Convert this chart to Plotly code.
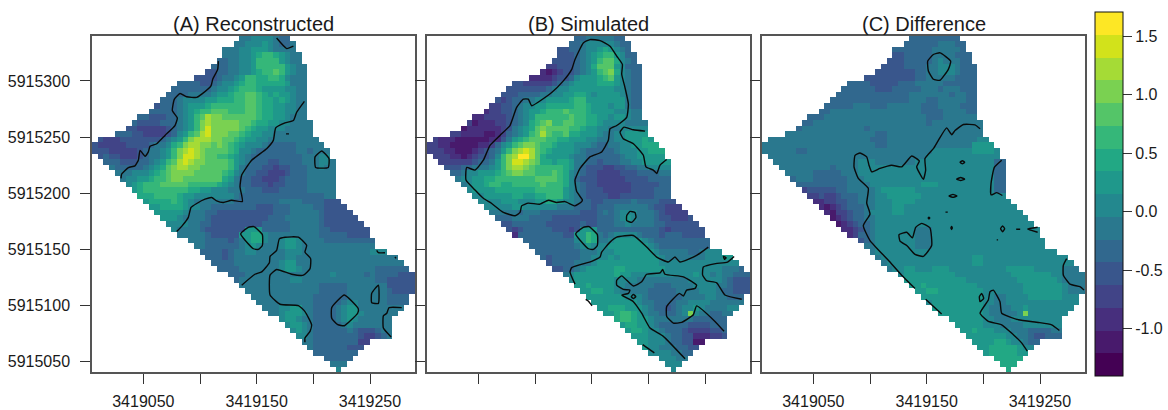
import plotly.graph_objects as go

# grid (5 m cells); each row string has one class code per cell, hex 0..f
east0, north0, cell = 3419007.2, 5915337.8, 5
class_edges_low, class_width = -1.403, 0.19437
palette = ["#440154","#481A6C","#472F7D","#414487","#39568C","#31688E","#2A788E","#23888E",
           "#1F988B","#22A884","#35B779","#54C568","#7AD151","#A5DB36","#D2E21B","#FDE725"]
row_first = [26,25,23,23,22,21,20,18,15,14,13,12,11,10,8,7,6,4,1,0,0,1,2,3,4,5,6,7,8,9,10,11,12,13,14,15,17,18,19,20,21,22,24,25,26,27,28,29,30,31,33,34,35,36,37,38,39,41,42,43]
row_last = [34,35,35,36,36,37,37,37,37,37,37,37,37,37,37,38,38,38,39,40,41,41,42,42,42,42,42,42,42,43,44,45,46,47,48,48,49,49,51,53,54,55,56,56,56,56,55,55,54,53,52,52,52,52,48,47,46,45,44,43]

reconstructed = [
"667777655","66777876556","6667788876666","6667789aa98766","5566778aaaa8766","55566778aaaaa8766",
"4455667789aaba8766","444456678aa99aa97666","555544567789aa999998666","555555567789aaa98888" "7766",
"5555666678" "89aabba98988766","555677778899" "9aabba998987" "66","4555678889aaaaaabba99887766",
"555556789aabbbaaabba99887766","55444556" "78abdccbbbbbba99887666",
"54444555678acdcccccbba99887766" "66","4433333456" "78acecccccba988777" "66666",
"5554433334578abdeccc" "bba98877" "6666666","4333444444456" "78acdddccbba98877666666666",
"433333444456679acddccbcba98777655555" "66666","44433333456678acdedcbbbba97765555555665666",
"4544333456678aceedcbbaa987655555555566677",
"55544455678abdedccbbbba876555" "44555566677" "6",
"65555567" "89bcddccbbbbba8655544" "3445556" "6766",
"66677789abccccbbbbba97655443334555" "66666",
"67788" "9aabccbbbbbbb98655443334555566666",
"789aaabbbbbaaaaa98765544434" "455556666" "6",
"89aaaaaaaa99887776665554445555566666",
"999aaaa98877777776555555555555555" "66",
"89999a9876666666555555556666555" "5444",
"889999877665555555544455566665" "54444",
"88888766655444444444455566666" "544444",
"888766665" "44444444445556666665444444",
"77776655" "4444444445555566666" "54444444",
"766665" "4444444888" "5555566666" "55" "4444444",
"666665" "44444" "8899" "7" "666666666" "55555" "4444",
"666" "5555" "4" "5" "6" "8" "99" "7" "66" "7" "88" "7" "6666" "555555555",
"66" "555555" "6" "7" "8" "7" "666" "7" "88" "7" "6666666666666",
"555545667766666777" "666666666666" "777",
"55545" "666666666" "77" "666666666666666666",
"5555" "66666666" "788" "6666666666666666666",
"5555" "6666666" "7887" "6666666666666" "555555",
"555" "666666666666666" "7" "66666" "5" "6" "5555" "444",
"5" "666666666" "77" "6666666666666" "55" "44444",
"66666666666666" "55555" "6666666" "44444",
"6666666666666" "55555" "6666666" "5" "4444",
"66666666666" "555555" "6666666" "5555",
"6666666666" "55555" "677" "66666" "5555",
"6667" "788" "66" "5555" "6" "788" "66666666",
"667" "888" "76" "5555" "6" "788" "7" "666666",
"7887" "66" "5555" "6" "787" "666666",
"78876" "55555" "676" "666666",
"7876" "55555" "565" "444" "566",
"776" "55555555" "433" "456",
"66" "55555555" "33",
"6555555" "444","55555555","55555","666","7",
]
simulated = [
"556666655","55677777655","4455677898765","44456789aa8755","44445678abb9765","334445679bbb87555",
"2123445678abc97655","2222344578889ab87655","44333334567888899987655",
"4444444" "5677" "88888888" "77" "6" "55",
"4445555" "667788" "99" "8" "7" "8888" "7" "6" "55",
"43455" "6677" "8888" "9aa" "8888888" "6" "55",
"33445677" "88" "99999" "aa" "9" "888" "7" "88" "6" "55",
"23344567" "889" "aaa" "b" "aaa" "9" "8888" "777" "66",
"223333" "45678" "aaaaaa" "b" "aa" "99" "88" "7" "88" "7" "66",
"3122233" "4567" "9abc" "aa" "bb" "aa" "99" "8" "7777" "6666",
"1222222" "34" "6789" "bc" "bbbb" "aa" "9" "88" "77" "66" "77777",
"332222" "11" "23" "5678" "abdb" "aab" "99" "888" "7" "66" "77" "8888",
"3222" "111111" "22" "468" "9abbb" "aa" "99" "888" "77" "666" "77" "888" "98",
"3322" "11111" "223" "578" "abccb" "aa" "9" "888" "777" "6" "55" "66" "77" "88" "999",
"33322" "111" "23456" "8acded" "ba9" "8888" "76" "55555" "6" "777" "88" "999",
"33322" "1" "2344" "57" "acdffd" "b9" "8888" "7" "66" "555555" "6" "77" "88888",
"333333" "4556" "8ace" "edcb" "99" "8" "99" "8" "66" "55" "4" "555" "66" "77" "88888",
"444" "55" "666" "78" "acddcb" "aaaaa" "98" "65" "444" "33" "44" "55" "66" "7777",
"556" "77" "888" "9ab" "cc" "bb" "aaa" "b" "a9" "76" "5" "44" "3333" "444" "5555" "66",
"677" "88" "99" "aaaaaaa" "bbbb" "a9" "7" "5" "444" "33333" "4444" "5555",
"678" "8" "9aa" "99" "aaaaa" "b" "aaa" "9" "765" "44" "333333" "44444" "55",
"78888" "9999999" "aaaaa" "8765" "444" "33333" "4444" "555",
"77" "88888" "99" "88" "99" "aaa" "8765" "4444" "33" "444444" "555",
"7777" "888" "777" "88" "99" "8" "77" "6" "55" "44" "55555" "6" "5555" "444",
"77777" "88" "777777" "666" "555" "4" "555" "666666" "5" "44" "333",
"66666" "5" "666" "5555555" "444" "5" "6" "5" "6" "777" "666" "5" "4" "3333",
"555" "666" "5555" "44444444" "555" "6787" "666" "5" "44" "333" "4",
"44" "555555" "444444" "5" "44" "555" "66" "7" "6666" "55" "444444",
"434" "55555" "444" "3" "4" "888" "55555555555" "4" "3" "444444",
"2" "55555555" "44" "88a9" "656" "7777" "6" "555" "4" "555" "4444",
"555555555" "78a9" "66" "7" "88888" "7" "6" "5555555555",
"55555555" "678777" "8888888" "76" "555555555",
"55555555" "666777" "8888888" "7" "66666" "55" "6" "777",
"54" "55555" "66" "777" "8" "7" "8888888" "7" "6666666" "777" "88",
"45555" "666" "7" "88888888888" "77777777777777",
"4455" "67" "88888" "99" "8888888" "7777777777" "6665",
"67" "8888888" "9" "88" "77777777777" "8" "77" "6" "7" "66" "555",
"7" "8888888" "7777" "666666666" "777777" "65" "444",
"889" "8888" "77" "66666" "555" "6666" "7777" "66" "5" "444",
"8899" "88" "7" "66666" "55555" "6666" "777" "6" "55" "444",
"8888888" "777" "6" "555555" "6666" "77" "66" "555",
"88888888" "7" "66" "5555" "66" "7777" "666666",
"88999888" "76" "55" "4" "5" "6" "778" "7" "6666" "77",
"889aa987" "66" "555" "6" "7c7" "66" "55" "66",
"9aa9887" "6666666" "555555",
"8998876" "55555" "4444" "555",
"8998776" "555" "4" "3333" "44" "5",
"888777" "6" "55" "44" "222" "33" "4",
"887776554411","8776665544","77776655","77766","777","7",
]
difference = [
"555555555","55555566655","5555555666665","44555556666555","444555556766655","44445555667776555",
"444444455667776555",
"444444444" "55" "66666" "5555",
"5555" "44444" "555" "66666" "555555",
"555555" "444" "55555" "666" "5" "666" "555",
"5555555555555" "6666666" "5" "66" "55",
"55555555555555" "666" "55" "66666" "55",
"55555" "666" "555" "666666" "555" "6666" "555",
"55" "6666666666666666" "5555" "6666" "55",
"555" "666666666666666666" "555" "666666",
"55" "66666666666666666666" "5" "666666666",
"5" "66666666666" "5" "66666666666666666666",
"6666666666666666" "55" "66666666666666666",
"666666666666666666" "555" "6666666666666666" "77",
"66666666666666666666" "55" "666666666666666" "8888",
"666666" "55" "6666666666666666666666" "7777777" "8888" "7",
"6666666666666666666666666666" "7777777777777",
"666666666666666" "777" "6666666" "77777777777777" "55",
"666666666" "5" "6666" "777777777777777777777777" "55",
"66666" "55555" "666" "777777777777777777777777" "55",
"5666" "555555" "666" "77777777777777777777777" "55",
"555555555" "6666" "777777777" "888" "7777777777" "55",
"34444455" "66666" "7" "888888" "77777777777777" "55",
"334334555" "666" "77" "888888" "777777777777777",
"22334455" "666" "777" "8888" "77777777777777777",
"21234555" "66" "777" "88" "77777777777777777777",
"2133455" "6" "7777" "88" "777777777777777777777",
"123455" "66" "777777777777777777777777777",
"1234556" "7777777777777777777777777777",
"223456" "7777777" "666" "7777777777777777777",
"23556" "7777777" "666" "7777777777777777777",
"456" "7777777" "666" "77777777777777777777",
"66" "7777777" "666" "77777777777777777777",
"6" "77777777777777777777777777777777",
"6" "7777777777777777" "88" "777777777777777",
"6" "777777777777777" "88" "7777777777777777",
"67788777888" "7777777777" "88888" "77777" "666",
"7" "888888888" "7777777777" "8888888" "77" "6666",
"88888888888" "777777777" "8888888" "7" "6666",
"889" "888888888" "77777777" "8888888" "7" "666",
"8899" "88888888" "7777777" "8888888" "7" "666",
"88888888888" "77" "66" "7777" "888888" "777",
"7" "888888888" "77" "66" "7777777777777",
"888888888" "7" "6666" "77" "8" "7" "7777777",
"88888888" "7" "66666" "7" "c" "7777777",
"888888" "77" "666" "777777777",
"88888" "777" "6666" "7777777",
"8898" "88777" "666" "5555" "66",
"8888888" "77" "66" "5" "44" "555",
"888899877655","8899999877","89999988","99999","999","9",
]

# contour lines: (easting - 3419000, northing - 5915000)
contours_a = [
[(116.2,317.6),(115.6,310.3),(111.2,301.5),(109.7,295.6),(101.5,288.2),(97.1,285.3),(88.2,285.9),(82.4,288.8),(77.4,283.8),(75.6,273.5),(80,267),(77.9,260.3),(69.1,251.5),(61.8,244.1),(55.9,241.8),(54.4,236.8),(51.5,232.9),(47.1,238.2),(45.6,229.4),(42.6,224.4),(36.8,222.9),(30.9,217.1),(30.3,213.2)],
[(167.6,338.2),(176.5,328.8),(182.4,330.9)],
[(192.1,281.8),(185.3,272.1),(182.4,264.7),(175,262.6),(166.8,258.2),(164.7,247.1),(158.8,239.7),(145.6,229.4),(136.8,216.2),(135.3,205.9),(137.4,192.6),(127.9,193.8),(120.6,191.8),(114.7,193.2),(110.3,196.2),(104.4,194.7),(97.1,190.9),(92.1,187.4),(89.7,178.5),(84.4,171.2),(79.4,165.9)],
[(175.9,252.9),(178.5,252.9)],
[(201.5,232.4),(207.4,237.6),(213.8,230.9),(213.2,223),(202,223),(201.5,232.4)],
[(135.9,163.8),(142.6,169.7),(147.6,170.3),(155,163.2),(155,153.5),(151.5,150),(147.1,150.6),(135.9,163.8)],
[(136.8,118.2),(148.5,127.9),(154.4,130),(161.2,138.2),(161.8,143.8),(167.6,149.1),(170,159.4),(175,160.9),(186.8,160.9),(194.1,153.5),(192.6,147.6),(197.6,141.8),(197.1,132.9),(191.2,127.1),(180.9,127.9),(167.6,132.1),(161.8,127.1),(161.8,109.4),(170.6,101.2),(186.8,100),(192.6,94.7),(198.5,82.9),(197.1,77.1),(192.6,71.2),(192.6,67.4)],
[(255.9,149.1),(257.4,147.1),(263.2,147.1)],
[(272,143.2),(273,142)],
[(251.5,110.9),(257.4,118.2),(257.4,102),(251.5,102.6),(251.5,110.9)],
[(227.4,109.4),(239.7,97.1),(239.1,93.2),(227.4,82.1),(221.5,83),(216.2,88.8),(216.2,98.2),(227.4,109.4)],
[(278,98.2),(266.8,98.2),(264.8,93.2),(261.8,90.9),(261.8,80),(268.6,72.1)],
]
contours_b = [
[(141.8,194.1),(136.8,201.5),(135.3,211.8),(139.7,222.1),(148.5,232.4),(158.8,236.8),(164.7,247.1),(166.2,257.4),(172.1,260.3),(180.9,267.6),(182.4,279.4),(179.4,294.1),(176.5,305.9),(177.1,314.7),(172.1,322.1),(166.2,330.9),(157.4,335.9),(148.5,336.8),(142.6,333.8),(135.3,319.1),(132.4,310.3),(125,300),(114.7,289.7),(97.1,277.9),(94.1,283.8),(89.7,283.8),(83.8,276.5),(77.9,260.3),(69.1,251.5),(60.3,242.6),(54.4,229.4),(47.1,220.6),(39.7,222.9),(39.1,211.8),(47.1,202.9),(54.4,195.5),(61.8,190.9),(72.1,182.9),(82.4,180),(86.8,182.9),(88.2,188.8),(94.1,191.2),(104.4,190.3),(111.8,193.8),(119.1,191.8),(126.5,192.6),(135.3,188.8),(141.2,192.6),(141.8,194.1)],
[(197.1,255.3),(186.8,256.5),(178.5,258.8),(175,254.4),(177.9,248.5),(186.8,244.1),(195.6,233.8),(197.9,223.5),(204.4,220.6),(207.4,217.6),(210.3,225),(216.2,230)],
[(180.9,180),(183.8,183.8),(188.2,182.9),(189.1,178.5),(185.3,174.1),(180.9,175.6),(180.9,180)],
[(135.9,163.8),(142.6,169.7),(147.6,170.3),(155,163.2),(155,153.5),(151.5,150),(147.1,150.6),(135.9,163.8)],
[(252.9,152.1),(242.6,144.7),(227.9,138.8),(223.5,143.2),(217.6,138.8),(207.4,143.2),(198.5,152.1),(186.8,162.4),(172.1,160.9),(166.2,156.5),(158.8,147.6),(157.4,143.2),(150,139.4),(132.4,133.8),(130.9,130),(135.3,119.1)],
[(275.7,143.8),(269.8,138.8),(259.4,137.4),(248.5,134.4),(247.9,127.1),(251.5,122.1),(260.3,120.3),(267.6,109.4),(282.4,105.6)],
[(266.2,143.8),(268.6,142.6),(267.1,141.2),(266.2,143.8)],
[(266.8,77.1),(258.8,85.9),(242.6,99.7),(239.7,91.8),(229.4,85),(222.1,84.4),(216.2,90.3),(216.2,99.1),(227.4,110.9),(230.9,108.5),(233.8,113.8),(241.2,115.3),(242.6,118.2),(230.9,125.6),(214.7,127.9),(212.6,132.1),(210.3,129.1),(198.5,127.9),(194.1,121.2),(186.8,117.4),(176.5,126.5),(172.1,122.6),(172.1,118.2),(177.9,114.4),(183.8,113.8),(182.4,110.9),(176.5,109.4),(186.8,103.5),(194.1,93.2),(201.5,80),(213.2,72.6),(232.4,52.6)],
[(186.8,110),(188.9,108),(186.8,106.2),(185,108),(186.8,110)],
[(144.7,105.6),(147,104),(150.3,99.7)],
[(195,65.3),(205.3,57.9)],
]
contours_c = [
[(155.9,323.5),(161.8,325),(171.2,317.6),(169.1,310.3),(161.8,300.6),(155.9,301.5),(151.5,308.8),(150.9,317.6),(155.9,323.5)],
[(197.1,257.4),(192.6,260.9),(182.4,261.2),(175,255.9),(172.1,252.1),(167.6,258.2),(160.3,247.1),(155.9,239.7),(148.5,230.9),(149.1,220.6),(147.1,212.4),(141.2,223.5),(143.5,228.8),(136.8,233.2),(127.9,223.5),(119.1,225),(108.8,222.1),(101.5,219.1),(99.1,225),(97.1,232.4),(91.2,235.9),(86.8,233.8),(85.9,223.5),(89.7,213.2),(98.5,204.4),(97.1,191.2),(100,181.5),(94.1,171.2),(100,157.9),(116.2,140.3),(127.9,127.1),(139.7,115.3)],
[(149.1,105.6),(163.2,92.6)],
[(125.6,163.2),(132.4,165.3),(137.4,160.3),(140.3,169.7),(145.6,173.2),(152.9,169.1),(154.4,153.5),(147.1,143.8),(139.7,145.6),(132.4,153.5),(126.5,157.4),(125.6,163.2)],
[(179.5,227.6),(181.5,229),(183.5,227.6),(181.5,226.2),(179.5,227.6)],
[(176.5,212.6),(180,214),(183.5,212.6),(180,211.4),(176.5,212.6)],
[(169.7,197.6),(173.2,199),(176.7,197.6),(173.2,196.4),(169.7,197.6)],
[(151.4,178),(152,178.8),(152.7,178),(152,177.2),(151.4,178)],
[(166.6,183.2),(168.6,183.2)],
[(172,170.4),(172.6,169.1),(172,167.8),(171.4,169.1),(172,170.4)],
[(217,171),(218.8,168.5),(217,165.8),(215.2,168.5),(217,171)],
[(229,168),(232.5,168)],
[(211.8,158.5),(213,158.5)],
[(247.9,169.8),(239,168.2),(247.9,165.3)],
[(216.2,229.4),(209.7,223),(206.8,208.8),(206.8,198.5),(211.8,200.6),(216.8,198)],
[(273.5,141.8),(270.6,135.9),(270.6,127.1),(276.5,119.1),(285.3,116.8),(288.8,113.8)],
[(267.1,77.9),(260.3,82.9),(248.5,85),(230.9,87.4),(216.2,93.2),(214.7,103.5),(208.8,113.8),(205.9,112.4),(204.4,105),(197.1,93.2),(204.4,85.9),(216.2,82.9),(226.5,74.1),(233.8,66.8),(238.8,59.4)],
[(196.5,107.9),(198.5,110.9),(200.3,106.5),(197.1,103.5),(196.5,107.9)],
]

titles = ["(A) Reconstructed", "(B) Simulated", "(C) Difference"]
x_ticks = [3419050, 3419100, 3419150, 3419200, 3419250]
x_labels = ["3419050", "", "3419150", "", "3419250"]
y_ticks = [5915050, 5915100, 5915150, 5915200, 5915250, 5915300]
bar_ticks = [-1.0, -0.5, 0.0, 0.5, 1.0, 1.5]

W, H = 1168, 410
panels = [(92, 415), (427, 750), (762, 1085)]
TOP, BOT = 36, 376
FONT = "Liberation Sans"

def grid(rows):
    z = []
    for r, s in enumerate(rows):
        a, b = row_first[r], row_last[r]
        n = b - a + 1
        s = (s + s[-1] * n)[:n]
        line = [None] * 57
        for i, ch in enumerate(s):
            line[a + i] = class_edges_low + (int(ch, 16) + 0.5) * class_width
        z.append(line)
    return z

xs = [east0 + cell * c for c in range(57)]
ys = [north0 - cell * r for r in range(60)]
zlo, zhi = class_edges_low, class_edges_low + 16 * class_width
scale = []
for i, col in enumerate(palette):
    scale += [[i / 16, col], [(i + 1) / 16, col]]

fig = go.Figure()
for i, (rows, lines) in enumerate(zip([reconstructed, simulated, difference],
                                      [contours_a, contours_b, contours_c])):
    ax = "" if i == 0 else str(i + 1)
    fig.add_trace(go.Heatmap(x=xs, y=ys, z=grid(rows), coloraxis="coloraxis",
                             xaxis="x" + ax, yaxis="y" + ax, hoverongaps=False))
    lx, ly = [], []
    for ln in lines:
        for e, n in ln:
            lx.append(3419000 + e)
            ly.append(5915000 + n)
        lx.append(None)
        ly.append(None)
    fig.add_trace(go.Scatter(x=lx, y=ly, mode="lines", showlegend=False,
                             line=dict(color="#0a0a0a", width=1.4, shape="spline", smoothing=0.45),
                             xaxis="x" + ax, yaxis="y" + ax))
    l, r = panels[i]
    common = dict(showgrid=False, zeroline=False, showline=True, mirror=True, linecolor="#555555",
                  linewidth=1.5, ticks="outside", ticklen=10, tickcolor="#333333", tickwidth=1,
                  tickfont=dict(family=FONT, size=16, color="#1a1a1a"))
    fig.layout["xaxis" + ax] = dict(domain=[l / W, r / W], range=[3419004.7, 3419289.7],
                                    anchor="y" + ax, tickmode="array", tickvals=x_ticks,
                                    ticktext=x_labels if i != 1 else [""] * 5,
                                    ticklabelstandoff=4, **common)
    fig.layout["yaxis" + ax] = dict(domain=[(H - BOT) / H, (H - TOP) / H], range=[5915040.6, 5915340.3],
                                    anchor="x" + ax, tickmode="array", tickvals=y_ticks,
                                    ticktext=[str(v) for v in y_ticks] if i == 0 else [""] * 6,
                                    tickangle=0, ticklabelstandoff=7, **common)
    fig.add_annotation(text=titles[i], x=(l + r) / 2 / W, y=(H - TOP) / H, xref="paper", yref="paper",
                       xanchor="center", yanchor="bottom", yshift=-1, showarrow=False,
                       font=dict(family=FONT, size=20, color="#1a1a1a"))

fig.update_layout(
    width=W, height=H, margin=dict(l=0, r=0, t=0, b=0), autosize=False,
    paper_bgcolor="white", plot_bgcolor="white", showlegend=False,
    coloraxis=dict(colorscale=scale, cmin=zlo, cmax=zhi,
                   colorbar=dict(x=1095 / W, xanchor="left", xpad=0, y=(H - 12) / H, yanchor="top", ypad=0,
                                 lenmode="pixels", len=364, thicknessmode="pixels", thickness=28,
                                 outlinecolor="#111111", outlinewidth=1, tickmode="array", tickvals=bar_ticks,
                                 ticktext=["-1.0", "-0.5", "0.0", "0.5", "1.0", "1.5"],
                                 ticks="outside", ticklen=9, tickcolor="#333333",
                                 tickfont=dict(family=FONT, size=16, color="#1a1a1a"))),
)
fig.write_html("out.html", config={"displayModeBar": False},
               post_script="document.body.style.margin='0';document.documentElement.style.overflow='hidden';")
